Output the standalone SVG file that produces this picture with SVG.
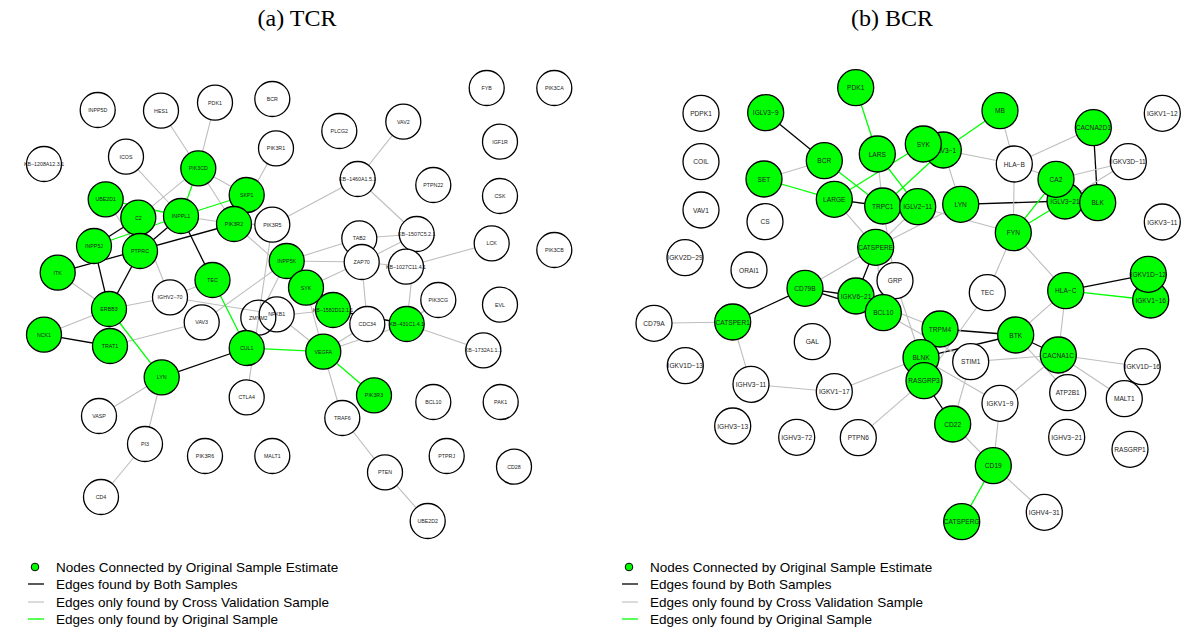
<svg xmlns="http://www.w3.org/2000/svg" width="1188" height="634" viewBox="0 0 1188 634">
<style>
.bg{fill:#fff}
.title{font-family:"Liberation Serif",serif;font-size:24px;fill:#000;text-anchor:middle}
.leg{font-family:"Liberation Sans",Arial,sans-serif;font-size:13.5px;fill:#000}
.e0{stroke:#bebebe;stroke-width:1.1;fill:none}
.e1{stroke:#000;stroke-width:1.3;fill:none}
.e2{stroke:#00ff00;stroke-width:1.3;fill:none}
.n circle{stroke:#000;stroke-width:1.3}
.w circle{fill:#fff}
.g circle{fill:#00ff00}
.a text{font-family:"Liberation Sans",Arial,sans-serif;font-size:5.3px;fill:#222;text-anchor:middle;dominant-baseline:central}
.b text{font-family:"Liberation Sans",Arial,sans-serif;font-size:6.6px;fill:#222;text-anchor:middle;dominant-baseline:central}
</style>
<rect class="bg" x="0" y="0" width="1188" height="634"/>
<text class="title" x="297" y="26">(a) TCR</text>
<text class="title" x="892" y="26">(b) BCR</text>

<g id="edges-a">
<line class="e0" x1="161" y1="110.7" x2="198.3" y2="168.3"/>
<line class="e0" x1="215" y1="102.7" x2="198.3" y2="168.3"/>
<line class="e0" x1="126" y1="156.7" x2="181" y2="216"/>
<line class="e0" x1="198.3" y1="168.3" x2="138.3" y2="217.7"/>
<line class="e0" x1="198.3" y1="168.3" x2="246.7" y2="195"/>
<line class="e0" x1="198.3" y1="168.3" x2="234" y2="224"/>
<line class="e0" x1="276" y1="148.3" x2="234" y2="224"/>
<line class="e0" x1="181" y1="216" x2="234" y2="224"/>
<line class="e0" x1="105.7" y1="199.3" x2="140" y2="251"/>
<line class="e0" x1="138.3" y1="217.7" x2="170" y2="297.3"/>
<line class="e0" x1="57.7" y1="272.7" x2="109" y2="309"/>
<line class="e0" x1="109" y1="309" x2="170" y2="297.3"/>
<line class="e0" x1="170" y1="297.3" x2="212.5" y2="280"/>
<line class="e0" x1="170" y1="297.3" x2="276.7" y2="314.3"/>
<line class="e0" x1="109" y1="309" x2="44" y2="334.7"/>
<line class="e0" x1="109" y1="309" x2="110" y2="346"/>
<line class="e0" x1="110" y1="346" x2="201.7" y2="322.3"/>
<line class="e0" x1="161.7" y1="377.3" x2="99" y2="416"/>
<line class="e0" x1="161.7" y1="377.3" x2="145" y2="444"/>
<line class="e0" x1="145" y1="444" x2="101" y2="497"/>
<line class="e0" x1="323.3" y1="351.7" x2="342.3" y2="418"/>
<line class="e0" x1="342.3" y1="418" x2="385" y2="472.3"/>
<line class="e0" x1="385" y1="472.3" x2="427.7" y2="521"/>
<line class="e0" x1="272.3" y1="224.7" x2="246.7" y2="397.3"/>
<line class="e0" x1="286.7" y1="261" x2="361.7" y2="262"/>
<line class="e0" x1="286.7" y1="261" x2="359.3" y2="238.3"/>
<line class="e0" x1="306" y1="287.7" x2="361.7" y2="262"/>
<line class="e0" x1="234" y1="224" x2="306" y2="287.7"/>
<line class="e0" x1="234" y1="224" x2="272.3" y2="224.7"/>
<line class="e0" x1="272.3" y1="224.7" x2="357.7" y2="179"/>
<line class="e0" x1="357.7" y1="179" x2="403.3" y2="121.7"/>
<line class="e0" x1="357.7" y1="179" x2="416.7" y2="234"/>
<line class="e0" x1="286.7" y1="261" x2="258.3" y2="317.7"/>
<line class="e0" x1="286.7" y1="261" x2="201.7" y2="322.3"/>
<line class="e0" x1="406" y1="266.7" x2="491.7" y2="243.3"/>
<line class="e0" x1="406.7" y1="324" x2="483.3" y2="350.3"/>
<line class="e0" x1="406.7" y1="324" x2="438.3" y2="300"/>
<line class="e0" x1="416.7" y1="234" x2="406.7" y2="324"/>
<line class="e0" x1="367.3" y1="324" x2="323.3" y2="351.7"/>
<line class="e0" x1="323.3" y1="351.7" x2="406.7" y2="324"/>
<line class="e0" x1="276.7" y1="314.3" x2="323.3" y2="351.7"/>
<line class="e0" x1="258.3" y1="317.7" x2="333" y2="310"/>
<line class="e0" x1="361.7" y1="262" x2="416.7" y2="234"/>
<line class="e0" x1="361.7" y1="262" x2="406" y2="266.7"/>
<line class="e0" x1="361.7" y1="262" x2="367.3" y2="324"/>
<line class="e0" x1="359.3" y1="238.3" x2="416.7" y2="234"/>
<line class="e0" x1="306" y1="287.7" x2="323.3" y2="351.7"/>
<line class="e1" x1="138.3" y1="217.7" x2="94" y2="246"/>
<line class="e1" x1="140" y1="251" x2="181" y2="216"/>
<line class="e1" x1="94" y1="246" x2="109" y2="309"/>
<line class="e1" x1="140" y1="251" x2="109" y2="309"/>
<line class="e1" x1="57.7" y1="272.7" x2="234" y2="224"/>
<line class="e1" x1="181" y1="216" x2="212.5" y2="280"/>
<line class="e1" x1="44" y1="334.7" x2="110" y2="346"/>
<line class="e1" x1="161.7" y1="377.3" x2="246.7" y2="348"/>
<line class="e1" x1="333" y1="310" x2="406.7" y2="324"/>
<line class="e2" x1="198.3" y1="168.3" x2="181" y2="216"/>
<line class="e2" x1="181" y1="216" x2="246.7" y2="195"/>
<line class="e2" x1="105.7" y1="199.3" x2="181" y2="216"/>
<line class="e2" x1="94" y1="246" x2="181" y2="216"/>
<line class="e2" x1="109" y1="309" x2="161.7" y2="377.3"/>
<line class="e2" x1="212.5" y1="280" x2="246.7" y2="348"/>
<line class="e2" x1="246.7" y1="348" x2="323.3" y2="351.7"/>
<line class="e2" x1="323.3" y1="351.7" x2="374" y2="395.3"/>
</g>

<g id="edges-b">
<line class="e1" x1="765.7" y1="112.7" x2="824.3" y2="160.7"/>
<line class="e1" x1="834.3" y1="199.3" x2="882.7" y2="206"/>
<line class="e1" x1="960.7" y1="204.3" x2="1065" y2="201"/>
<line class="e1" x1="1093.3" y1="127.7" x2="1097.7" y2="202.7"/>
<line class="e1" x1="875.7" y1="247.3" x2="856" y2="296"/>
<line class="e1" x1="805" y1="288.3" x2="856" y2="296"/>
<line class="e1" x1="805" y1="288.3" x2="883.3" y2="312.7"/>
<line class="e1" x1="805" y1="288.3" x2="732.7" y2="322"/>
<line class="e1" x1="940" y1="329" x2="1015.7" y2="335"/>
<line class="e1" x1="921" y1="357.7" x2="1015.7" y2="335"/>
<line class="e1" x1="924" y1="380.7" x2="952.7" y2="424"/>
<line class="e1" x1="1015.7" y1="335" x2="1058.3" y2="355"/>
<line class="e1" x1="1065.7" y1="290.7" x2="1148.3" y2="274.3"/>
<line class="e2" x1="764" y1="179" x2="834.3" y2="199.3"/>
<line class="e2" x1="824.3" y1="160.7" x2="882.7" y2="206"/>
<line class="e2" x1="855.7" y1="87.7" x2="877.3" y2="154"/>
<line class="e2" x1="877.3" y1="154" x2="917.7" y2="206.7"/>
<line class="e2" x1="923.3" y1="144" x2="834.3" y2="199.3"/>
<line class="e2" x1="943.3" y1="150" x2="882.7" y2="206"/>
<line class="e2" x1="943.3" y1="150" x2="1000" y2="110.7"/>
<line class="e2" x1="1013.3" y1="232.7" x2="1065" y2="201"/>
<line class="e2" x1="1013.3" y1="232.7" x2="1056" y2="179.3"/>
<line class="e2" x1="993.3" y1="465.7" x2="961.7" y2="521.7"/>
<line class="e2" x1="1065.7" y1="290.7" x2="1150.7" y2="300"/>
<line class="e0" x1="764" y1="179" x2="824.3" y2="160.7"/>
<line class="e0" x1="877.3" y1="154" x2="882.7" y2="206"/>
<line class="e0" x1="943.3" y1="150" x2="960.7" y2="204.3"/>
<line class="e0" x1="943.3" y1="150" x2="1014.3" y2="164"/>
<line class="e0" x1="834.3" y1="199.3" x2="875.7" y2="247.3"/>
<line class="e0" x1="882.7" y1="206" x2="895" y2="280.7"/>
<line class="e0" x1="917.7" y1="206.7" x2="875.7" y2="247.3"/>
<line class="e0" x1="960.7" y1="204.3" x2="875.7" y2="247.3"/>
<line class="e0" x1="917.7" y1="206.7" x2="1013.3" y2="232.7"/>
<line class="e0" x1="875.7" y1="247.3" x2="805" y2="288.3"/>
<line class="e0" x1="875.7" y1="247.3" x2="883.3" y2="312.7"/>
<line class="e0" x1="895" y1="280.7" x2="921" y2="357.7"/>
<line class="e0" x1="856" y1="296" x2="940" y2="329"/>
<line class="e0" x1="883.3" y1="312.7" x2="970.7" y2="361.7"/>
<line class="e0" x1="987.3" y1="292.7" x2="924" y2="380.7"/>
<line class="e0" x1="921" y1="357.7" x2="834.3" y2="391.7"/>
<line class="e0" x1="921" y1="357.7" x2="1000" y2="403.3"/>
<line class="e0" x1="924" y1="380.7" x2="858.3" y2="437.7"/>
<line class="e0" x1="970.7" y1="361.7" x2="952.7" y2="424"/>
<line class="e0" x1="970.7" y1="361.7" x2="1058.3" y2="355"/>
<line class="e0" x1="952.7" y1="424" x2="993.3" y2="465.7"/>
<line class="e0" x1="993.3" y1="465.7" x2="1000" y2="403.3"/>
<line class="e0" x1="993.3" y1="465.7" x2="1044.3" y2="512.3"/>
<line class="e0" x1="751" y1="384.3" x2="732.7" y2="322"/>
<line class="e0" x1="751" y1="384.3" x2="834.3" y2="391.7"/>
<line class="e0" x1="654" y1="323.3" x2="732.7" y2="322"/>
<line class="e0" x1="1015.7" y1="335" x2="1065.7" y2="290.7"/>
<line class="e0" x1="1015.7" y1="335" x2="1067.7" y2="392.7"/>
<line class="e0" x1="1065.7" y1="290.7" x2="1058.3" y2="355"/>
<line class="e0" x1="1058.3" y1="355" x2="1142.3" y2="366.7"/>
<line class="e0" x1="1058.3" y1="355" x2="1124.3" y2="398.7"/>
<line class="e0" x1="1058.3" y1="355" x2="1067.7" y2="392.7"/>
<line class="e0" x1="1058.3" y1="355" x2="1000" y2="403.3"/>
<line class="e0" x1="1013.3" y1="232.7" x2="1065.7" y2="290.7"/>
<line class="e0" x1="1013.3" y1="232.7" x2="1014.3" y2="164"/>
<line class="e0" x1="1013.3" y1="232.7" x2="987.3" y2="292.7"/>
<line class="e0" x1="1014.3" y1="164" x2="1093.3" y2="127.7"/>
<line class="e0" x1="1014.3" y1="164" x2="1056" y2="179.3"/>
<line class="e0" x1="1014.3" y1="164" x2="1000" y2="110.7"/>
<line class="e0" x1="1056" y1="179.3" x2="1128.3" y2="161.7"/>
<line class="e0" x1="1128.3" y1="161.7" x2="1065" y2="201"/>
</g>

<g id="nodes-a" class="a">
<g id="a-INPP5D" class="n w"><circle cx="97.7" cy="110" r="17.5"/><text x="97.7" y="110">INPP5D</text></g>
<g id="a-HES1" class="n w"><circle cx="161" cy="110.7" r="17.5"/><text x="161" y="110.7">HES1</text></g>
<g id="a-PDK1" class="n w"><circle cx="215" cy="102.7" r="17.5"/><text x="215" y="102.7">PDK1</text></g>
<g id="a-BCR" class="n w"><circle cx="272.3" cy="99" r="17.5"/><text x="272.3" y="99">BCR</text></g>
<g id="a-KB1208" class="n w"><circle cx="44" cy="164" r="17.5"/><text x="44" y="164">KB−1208A12.3.1</text></g>
<g id="a-ICOS" class="n w"><circle cx="126" cy="156.7" r="17.5"/><text x="126" y="156.7">ICOS</text></g>
<g id="a-PIK3CD" class="n g"><circle cx="198.3" cy="168.3" r="17.5"/><text x="198.3" y="168.3">PIK3CD</text></g>
<g id="a-PIK3R1" class="n w"><circle cx="276" cy="148.3" r="17.5"/><text x="276" y="148.3">PIK3R1</text></g>
<g id="a-PLCG2" class="n w"><circle cx="339.3" cy="131" r="17.5"/><text x="339.3" y="131">PLCG2</text></g>
<g id="a-VAV2" class="n w"><circle cx="403.3" cy="121.7" r="17.5"/><text x="403.3" y="121.7">VAV2</text></g>
<g id="a-FYB" class="n w"><circle cx="486.7" cy="88" r="17.5"/><text x="486.7" y="88">FYB</text></g>
<g id="a-PIK3CA" class="n w"><circle cx="554.3" cy="88" r="17.5"/><text x="554.3" y="88">PIK3CA</text></g>
<g id="a-IGF1R" class="n w"><circle cx="500" cy="141.7" r="17.5"/><text x="500" y="141.7">IGF1R</text></g>
<g id="a-PTPN22" class="n w"><circle cx="433.3" cy="185" r="17.5"/><text x="433.3" y="185">PTPN22</text></g>
<g id="a-KB1460" class="n w"><circle cx="357.7" cy="179" r="17.5"/><text x="357.7" y="179">KB−1460A1.5.1</text></g>
<g id="a-CSK" class="n w"><circle cx="500" cy="196" r="17.5"/><text x="500" y="196">CSK</text></g>
<g id="a-UBE2D1" class="n g"><circle cx="105.7" cy="199.3" r="17.5"/><text x="105.7" y="199.3">UBE2D1</text></g>
<g id="a-C2" class="n g"><circle cx="138.3" cy="217.7" r="17.5"/><text x="138.3" y="217.7">C2</text></g>
<g id="a-INPPL1" class="n g"><circle cx="181" cy="216" r="17.5"/><text x="181" y="216">INPPL1</text></g>
<g id="a-SKP1" class="n g"><circle cx="246.7" cy="195" r="17.5"/><text x="246.7" y="195">SKP1</text></g>
<g id="a-PIK3R2" class="n g"><circle cx="234" cy="224" r="17.5"/><text x="234" y="224">PIK3R2</text></g>
<g id="a-PIK3R5" class="n w"><circle cx="272.3" cy="224.7" r="17.5"/><text x="272.3" y="224.7">PIK3R5</text></g>
<g id="a-KB1507" class="n w"><circle cx="416.7" cy="234" r="17.5"/><text x="416.7" y="234">KB−1507C5.2.1</text></g>
<g id="a-TAB2" class="n w"><circle cx="359.3" cy="238.3" r="17.5"/><text x="359.3" y="238.3">TAB2</text></g>
<g id="a-ZAP70" class="n w"><circle cx="361.7" cy="262" r="17.5"/><text x="361.7" y="262">ZAP70</text></g>
<g id="a-LCK" class="n w"><circle cx="491.7" cy="243.3" r="17.5"/><text x="491.7" y="243.3">LCK</text></g>
<g id="a-PIK3CB" class="n w"><circle cx="554.3" cy="250" r="17.5"/><text x="554.3" y="250">PIK3CB</text></g>
<g id="a-INPP5J" class="n g"><circle cx="94" cy="246" r="17.5"/><text x="94" y="246">INPP5J</text></g>
<g id="a-PTPRC" class="n g"><circle cx="140" cy="251" r="17.5"/><text x="140" y="251">PTPRC</text></g>
<g id="a-INPP5K" class="n g"><circle cx="286.7" cy="261" r="17.5"/><text x="286.7" y="261">INPP5K</text></g>
<g id="a-KB1027" class="n w"><circle cx="406" cy="266.7" r="17.5"/><text x="406" y="266.7">KB−1027C11.4.1</text></g>
<g id="a-ITK" class="n g"><circle cx="57.7" cy="272.7" r="17.5"/><text x="57.7" y="272.7">ITK</text></g>
<g id="a-TEC" class="n g"><circle cx="212.5" cy="280" r="17.5"/><text x="212.5" y="280">TEC</text></g>
<g id="a-SYK" class="n g"><circle cx="306" cy="287.7" r="17.5"/><text x="306" y="287.7">SYK</text></g>
<g id="a-IGHV2-70" class="n w"><circle cx="170" cy="297.3" r="17.5"/><text x="170" y="297.3">IGHV2−70</text></g>
<g id="a-PIK3CG" class="n w"><circle cx="438.3" cy="300" r="17.5"/><text x="438.3" y="300">PIK3CG</text></g>
<g id="a-EVL" class="n w"><circle cx="500" cy="304.7" r="17.5"/><text x="500" y="304.7">EVL</text></g>
<g id="a-ERBB3" class="n g"><circle cx="109" cy="309" r="17.5"/><text x="109" y="309">ERBB3</text></g>
<g id="a-KB1582" class="n g"><circle cx="333" cy="310" r="17.5"/><text x="333" y="310">KB−1582D12.1.1</text></g>
<g id="a-NFKB1" class="n w"><circle cx="276.7" cy="314.3" r="17.5"/><text x="276.7" y="314.3">NFKB1</text></g>
<g id="a-ZMYM2" class="n w"><circle cx="258.3" cy="317.7" r="17.5" fill-opacity="0"/><text x="258.3" y="317.7">ZMYM2</text></g>
<g id="a-VAV3" class="n w"><circle cx="201.7" cy="322.3" r="17.5"/><text x="201.7" y="322.3">VAV3</text></g>
<g id="a-CDC34" class="n w"><circle cx="367.3" cy="324" r="17.5"/><text x="367.3" y="324">CDC34</text></g>
<g id="a-KB431" class="n g"><circle cx="406.7" cy="324" r="17.5"/><text x="406.7" y="324">KB−431C1.4.1</text></g>
<g id="a-NCK1" class="n g"><circle cx="44" cy="334.7" r="17.5"/><text x="44" y="334.7">NCK1</text></g>
<g id="a-TRAT1" class="n g"><circle cx="110" cy="346" r="17.5"/><text x="110" y="346">TRAT1</text></g>
<g id="a-CUL1" class="n g"><circle cx="246.7" cy="348" r="17.5"/><text x="246.7" y="348">CUL1</text></g>
<g id="a-VEGFA" class="n g"><circle cx="323.3" cy="351.7" r="17.5"/><text x="323.3" y="351.7">VEGFA</text></g>
<g id="a-KB1732" class="n w"><circle cx="483.3" cy="350.3" r="17.5"/><text x="483.3" y="350.3">KB−1732A1.1.1</text></g>
<g id="a-LYN" class="n g"><circle cx="161.7" cy="377.3" r="17.5"/><text x="161.7" y="377.3">LYN</text></g>
<g id="a-PIK3R3" class="n g"><circle cx="374" cy="395.3" r="17.5"/><text x="374" y="395.3">PIK3R3</text></g>
<g id="a-CTLA4" class="n w"><circle cx="246.7" cy="397.3" r="17.5"/><text x="246.7" y="397.3">CTLA4</text></g>
<g id="a-BCL10" class="n w"><circle cx="433.3" cy="402" r="17.5"/><text x="433.3" y="402">BCL10</text></g>
<g id="a-PAK1" class="n w"><circle cx="500.7" cy="402" r="17.5"/><text x="500.7" y="402">PAK1</text></g>
<g id="a-VASP" class="n w"><circle cx="99" cy="416" r="17.5"/><text x="99" y="416">VASP</text></g>
<g id="a-TRAF6" class="n w"><circle cx="342.3" cy="418" r="17.5"/><text x="342.3" y="418">TRAF6</text></g>
<g id="a-PI3" class="n w"><circle cx="145" cy="444" r="17.5"/><text x="145" y="444">PI3</text></g>
<g id="a-PIK3R6" class="n w"><circle cx="205" cy="456" r="17.5"/><text x="205" y="456">PIK3R6</text></g>
<g id="a-MALT1" class="n w"><circle cx="272.3" cy="456" r="17.5"/><text x="272.3" y="456">MALT1</text></g>
<g id="a-PTPRJ" class="n w"><circle cx="446.7" cy="456" r="17.5"/><text x="446.7" y="456">PTPRJ</text></g>
<g id="a-CD28" class="n w"><circle cx="514" cy="466.7" r="17.5"/><text x="514" y="466.7">CD28</text></g>
<g id="a-PTEN" class="n w"><circle cx="385" cy="472.3" r="17.5"/><text x="385" y="472.3">PTEN</text></g>
<g id="a-CD4" class="n w"><circle cx="101" cy="497" r="17.5"/><text x="101" y="497">CD4</text></g>
<g id="a-UBE2D2" class="n w"><circle cx="427.7" cy="521" r="17.5"/><text x="427.7" y="521">UBE2D2</text></g>
</g>

<g id="nodes-b" class="b">
<g id="b-PDPK1" class="n w"><circle cx="701" cy="113.3" r="18"/><text x="701" y="113.3">PDPK1</text></g>
<g id="b-IGLV3-9" class="n g"><circle cx="765.7" cy="112.7" r="18"/><text x="765.7" y="112.7">IGLV3−9</text></g>
<g id="b-COIL" class="n w"><circle cx="701" cy="161.7" r="18"/><text x="701" y="161.7">COIL</text></g>
<g id="b-SET" class="n g"><circle cx="764" cy="179" r="18"/><text x="764" y="179">SET</text></g>
<g id="b-VAV1" class="n w"><circle cx="701" cy="210" r="18"/><text x="701" y="210">VAV1</text></g>
<g id="b-CS" class="n w"><circle cx="765" cy="221.7" r="18"/><text x="765" y="221.7">CS</text></g>
<g id="b-IGKV2D-29" class="n w"><circle cx="685" cy="257.7" r="18"/><text x="685" y="257.7">IGKV2D−29</text></g>
<g id="b-ORAI1" class="n w"><circle cx="749" cy="270" r="18"/><text x="749" y="270">ORAI1</text></g>
<g id="b-CD79A" class="n w"><circle cx="654" cy="323.3" r="18"/><text x="654" y="323.3">CD79A</text></g>
<g id="b-CATSPER1" class="n g"><circle cx="732.7" cy="322" r="18"/><text x="732.7" y="322">CATSPER1</text></g>
<g id="b-IGKV1D-13" class="n w"><circle cx="685.3" cy="365.7" r="18"/><text x="685.3" y="365.7">IGKV1D−13</text></g>
<g id="b-IGHV3-11" class="n w"><circle cx="751" cy="384.3" r="18"/><text x="751" y="384.3">IGHV3−11</text></g>
<g id="b-IGHV3-13" class="n w"><circle cx="732.7" cy="426" r="18"/><text x="732.7" y="426">IGHV3−13</text></g>
<g id="b-IGHV3-72" class="n w"><circle cx="796.7" cy="437.3" r="18"/><text x="796.7" y="437.3">IGHV3−72</text></g>
<g id="b-GAL" class="n w"><circle cx="812.3" cy="341.7" r="18"/><text x="812.3" y="341.7">GAL</text></g>
<g id="b-PDK1" class="n g"><circle cx="855.7" cy="87.7" r="18"/><text x="855.7" y="87.7">PDK1</text></g>
<g id="b-BCR" class="n g"><circle cx="824.3" cy="160.7" r="18"/><text x="824.3" y="160.7">BCR</text></g>
<g id="b-LARS" class="n g"><circle cx="877.3" cy="154" r="18"/><text x="877.3" y="154">LARS</text></g>
<g id="b-IGLV3-1" class="n g"><circle cx="943.3" cy="150" r="18"/><text x="943.3" y="150">IGLV3−1</text></g>
<g id="b-SYK" class="n g"><circle cx="923.3" cy="144" r="18"/><text x="923.3" y="144">SYK</text></g>
<g id="b-MB" class="n g"><circle cx="1000" cy="110.7" r="18"/><text x="1000" y="110.7">MB</text></g>
<g id="b-LARGE" class="n g"><circle cx="834.3" cy="199.3" r="18"/><text x="834.3" y="199.3">LARGE</text></g>
<g id="b-TRPC1" class="n g"><circle cx="882.7" cy="206" r="18"/><text x="882.7" y="206">TRPC1</text></g>
<g id="b-IGLV2-11" class="n g"><circle cx="917.7" cy="206.7" r="18"/><text x="917.7" y="206.7">IGLV2−11</text></g>
<g id="b-LYN" class="n g"><circle cx="960.7" cy="204.3" r="18"/><text x="960.7" y="204.3">LYN</text></g>
<g id="b-CATSPERE" class="n g"><circle cx="875.7" cy="247.3" r="18"/><text x="875.7" y="247.3">CATSPERE</text></g>
<g id="b-GRP" class="n w"><circle cx="895" cy="280.7" r="18"/><text x="895" y="280.7">GRP</text></g>
<g id="b-CD79B" class="n g"><circle cx="805" cy="288.3" r="18"/><text x="805" y="288.3">CD79B</text></g>
<g id="b-IGKV6-21" class="n g"><circle cx="856" cy="296" r="18"/><text x="856" y="296">IGKV6−21</text></g>
<g id="b-BCL10" class="n g"><circle cx="883.3" cy="312.7" r="18"/><text x="883.3" y="312.7">BCL10</text></g>
<g id="b-TEC" class="n w"><circle cx="987.3" cy="292.7" r="18"/><text x="987.3" y="292.7">TEC</text></g>
<g id="b-CACNA2D1" class="n g"><circle cx="1093.3" cy="127.7" r="18"/><text x="1093.3" y="127.7">CACNA2D1</text></g>
<g id="b-IGKV1-12" class="n w"><circle cx="1162.3" cy="113.3" r="18"/><text x="1162.3" y="113.3">IGKV1−12</text></g>
<g id="b-HLA-B" class="n w"><circle cx="1014.3" cy="164" r="18"/><text x="1014.3" y="164">HLA−B</text></g>
<g id="b-IGKV3D-11" class="n w"><circle cx="1128.3" cy="161.7" r="18"/><text x="1128.3" y="161.7">IGKV3D−11</text></g>
<g id="b-IGLV3-21" class="n g"><circle cx="1065" cy="201" r="18"/><text x="1065" y="201">IGLV3−21</text></g>
<g id="b-CA2" class="n g"><circle cx="1056" cy="179.3" r="18"/><text x="1056" y="179.3">CA2</text></g>
<g id="b-BLK" class="n g"><circle cx="1097.7" cy="202.7" r="18"/><text x="1097.7" y="202.7">BLK</text></g>
<g id="b-IGKV3-11" class="n w"><circle cx="1162.3" cy="222" r="18"/><text x="1162.3" y="222">IGKV3−11</text></g>
<g id="b-FYN" class="n g"><circle cx="1013.3" cy="232.7" r="18"/><text x="1013.3" y="232.7">FYN</text></g>
<g id="b-HLA-C" class="n g"><circle cx="1065.7" cy="290.7" r="18"/><text x="1065.7" y="290.7">HLA−C</text></g>
<g id="b-IGKV1-16" class="n g"><circle cx="1150.7" cy="300" r="18"/><text x="1150.7" y="300">IGKV1−16</text></g>
<g id="b-IGKV1D-12" class="n g"><circle cx="1148.3" cy="274.3" r="18"/><text x="1148.3" y="274.3">IGKV1D−12</text></g>
<g id="b-TRPM4" class="n g"><circle cx="940" cy="329" r="18"/><text x="940" y="329">TRPM4</text></g>
<g id="b-BLNK" class="n g"><circle cx="921" cy="357.7" r="18"/><text x="921" y="357.7">BLNK</text></g>
<g id="b-RASGRP3" class="n g"><circle cx="924" cy="380.7" r="18"/><text x="924" y="380.7">RASGRP3</text></g>
<g id="b-STIM1" class="n w"><circle cx="970.7" cy="361.7" r="18"/><text x="970.7" y="361.7">STIM1</text></g>
<g id="b-IGKV1-17" class="n w"><circle cx="834.3" cy="391.7" r="18"/><text x="834.3" y="391.7">IGKV1−17</text></g>
<g id="b-CD22" class="n g"><circle cx="952.7" cy="424" r="18"/><text x="952.7" y="424">CD22</text></g>
<g id="b-PTPN6" class="n w"><circle cx="858.3" cy="437.7" r="18"/><text x="858.3" y="437.7">PTPN6</text></g>
<g id="b-CD19" class="n g"><circle cx="993.3" cy="465.7" r="18"/><text x="993.3" y="465.7">CD19</text></g>
<g id="b-CATSPERG" class="n g"><circle cx="961.7" cy="521.7" r="18"/><text x="961.7" y="521.7">CATSPERG</text></g>
<g id="b-BTK" class="n g"><circle cx="1015.7" cy="335" r="18"/><text x="1015.7" y="335">BTK</text></g>
<g id="b-CACNA1C" class="n g"><circle cx="1058.3" cy="355" r="18"/><text x="1058.3" y="355">CACNA1C</text></g>
<g id="b-IGKV1D-16" class="n w"><circle cx="1142.3" cy="366.7" r="18"/><text x="1142.3" y="366.7">IGKV1D−16</text></g>
<g id="b-ATP2B1" class="n w"><circle cx="1067.7" cy="392.7" r="18"/><text x="1067.7" y="392.7">ATP2B1</text></g>
<g id="b-MALT1" class="n w"><circle cx="1124.3" cy="398.7" r="18"/><text x="1124.3" y="398.7">MALT1</text></g>
<g id="b-IGKV1-9" class="n w"><circle cx="1000" cy="403.3" r="18"/><text x="1000" y="403.3">IGKV1−9</text></g>
<g id="b-IGHV3-21" class="n w"><circle cx="1066.7" cy="437.3" r="18"/><text x="1066.7" y="437.3">IGHV3−21</text></g>
<g id="b-RASGRP1" class="n w"><circle cx="1130" cy="449.3" r="18"/><text x="1130" y="449.3">RASGRP1</text></g>
<g id="b-IGHV4-31" class="n w"><circle cx="1044.3" cy="512.3" r="18"/><text x="1044.3" y="512.3">IGHV4−31</text></g>
</g>

<g id="legend-a">
<circle cx="35" cy="567" r="3.8" fill="#00ff00" stroke="#000" stroke-width="1"/>
<text class="leg" x="56" y="571.5">Nodes Connected by Original Sample Estimate</text>
<line class="e1" x1="28" y1="584" x2="44" y2="584"/>
<text class="leg" x="56" y="588.5">Edges found by Both Samples</text>
<line class="e0" x1="28" y1="602" x2="44" y2="602"/>
<text class="leg" x="56" y="606.5">Edges only found by Cross Validation Sample</text>
<line class="e2" x1="28" y1="619" x2="44" y2="619"/>
<text class="leg" x="56" y="623.5">Edges only found by Original Sample</text>
</g>
<g id="legend-b">
<circle cx="629" cy="567" r="3.8" fill="#00ff00" stroke="#000" stroke-width="1"/>
<text class="leg" x="650" y="571.5">Nodes Connected by Original Sample Estimate</text>
<line class="e1" x1="622" y1="584" x2="638" y2="584"/>
<text class="leg" x="650" y="588.5">Edges found by Both Samples</text>
<line class="e0" x1="622" y1="602" x2="638" y2="602"/>
<text class="leg" x="650" y="606.5">Edges only found by Cross Validation Sample</text>
<line class="e2" x1="622" y1="619" x2="638" y2="619"/>
<text class="leg" x="650" y="623.5">Edges only found by Original Sample</text>
</g>
</svg>
